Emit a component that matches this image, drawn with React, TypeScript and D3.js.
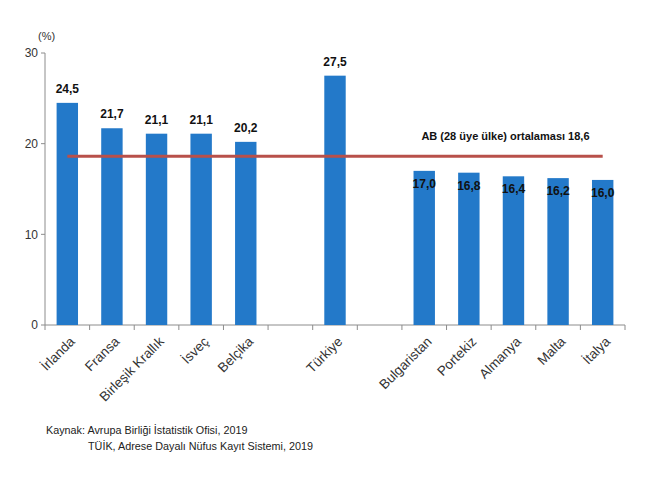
import React, { useEffect, useRef } from 'react'
import * as d3 from 'd3'

// country labels, blanks leave empty slots between groups
const countries = ['İrlanda', 'Fransa', 'Birleşik Krallık', 'İsveç', 'Belçika', '', 'Türkiye', '', 'Bulgaristan', 'Portekiz', 'Almanya', 'Malta', 'İtalya']
const values: (number | null)[] = [24.5, 21.7, 21.1, 21.1, 20.2, null, 27.5, null, 17.0, 16.8, 16.4, 16.2, 16.0]
const yTicks = [0, 10, 20, 30]
const euAverage = 18.6
const avgLabel = 'AB (28 üye ülke) ortalaması 18,6'
const sourceLines = ['Kaynak: Avrupa Birliği İstatistik Ofisi, 2019', 'TÜİK, Adrese Dayalı Nüfus Kayıt Sistemi, 2019']

const FONT = '"Liberation Sans", Arial, sans-serif'

const fmt = (v: number) => v.toFixed(1).replace('.', ',')

function BarChart() {
  const ref = useRef<SVGSVGElement>(null)

  useEffect(() => {
    const svg = d3.select(ref.current)
    svg.selectAll('*').remove()

    const margin = { top: 53, left: 45 }
    const width = 580
    const height = 272

    const x = d3.scaleBand<number>()
      .domain(countries.map((_, i) => i))
      .range([0, width])
      .paddingInner(0.52)
      .paddingOuter(0.26)
    const y = d3.scaleLinear().domain([0, 30]).range([height, 0])

    const g = svg.append('g')
      .attr('transform', 'translate(' + margin.left + ',' + margin.top + ')')

    // y axis
    g.append('line').attr('x1', 0).attr('x2', 0).attr('y1', 0).attr('y2', height)
      .attr('stroke', '#8c8c8c')
    yTicks.forEach(t => {
      g.append('line').attr('x1', -4).attr('x2', 0).attr('y1', y(t)).attr('y2', y(t))
        .attr('stroke', '#8c8c8c')
      g.append('text').attr('x', -7).attr('y', y(t)).attr('dy', '0.35em')
        .attr('text-anchor', 'end').attr('font-size', 12).attr('fill', '#333')
        .attr('font-family', FONT).text(t)
    })
    g.append('text').attr('x', -7).attr('y', -13).attr('font-size', 11).attr('fill', '#333')
      .attr('font-family', FONT).text('(%)')

    // x axis with ticks at slot boundaries
    g.append('line').attr('x1', 0).attr('x2', width).attr('y1', height).attr('y2', height)
      .attr('stroke', '#8c8c8c')
    const step = width / countries.length
    d3.range(countries.length + 1).forEach(i => {
      g.append('line').attr('x1', i * step).attr('x2', i * step)
        .attr('y1', height).attr('y2', height + 5).attr('stroke', '#8c8c8c')
    })
    countries.forEach((c, i) => {
      if (!c) return
      const cx = x(i)! + x.bandwidth() / 2
      g.append('text')
        .attr('transform', 'translate(' + (cx + 5) + ',' + (height + 14) + ') rotate(-45)')
        .attr('text-anchor', 'end').attr('dy', '0.35em')
        .attr('font-size', 13.5).attr('fill', '#333').attr('font-family', FONT)
        .text(c)
    })

    // bars
    const data = values.map((v, i) => ({ i, v })).filter(d => d.v !== null) as { i: number, v: number }[]
    g.selectAll('.bar').data(data).enter().append('rect')
      .attr('class', 'bar')
      .attr('x', d => x(d.i)!)
      .attr('width', x.bandwidth())
      .attr('y', d => y(d.v))
      .attr('height', d => height - y(d.v))
      .attr('fill', '#2379c9')

    // average line
    const first = x(0)! + x.bandwidth() / 2
    const last = x(countries.length - 1)! + x.bandwidth() / 2
    g.append('line').attr('x1', first).attr('x2', last)
      .attr('y1', y(euAverage)).attr('y2', y(euAverage))
      .attr('stroke', '#b8504a').attr('stroke-width', 3)
    g.append('text').attr('x', x(10)! + x.bandwidth() / 2 - 8).attr('y', y(euAverage) - 16)
      .attr('text-anchor', 'middle').attr('font-size', 11).attr('font-weight', 'bold')
      .attr('fill', '#111').attr('font-family', FONT).text(avgLabel)

    // value labels: above the bar when it clears the line, inside otherwise
    g.selectAll('.lbl').data(data).enter().append('text')
      .attr('x', d => x(d.i)! + x.bandwidth() / 2)
      .attr('y', d => d.v > euAverage ? y(d.v) - 10 : y(d.v) + 17)
      .attr('text-anchor', 'middle').attr('font-size', 12).attr('font-weight', 'bold')
      .attr('fill', '#111').attr('font-family', FONT)
      .text(d => fmt(d.v))

    // source note
    svg.append('text').attr('x', 46).attr('y', 434).attr('font-size', 10.8).attr('fill', '#222')
      .attr('font-family', FONT).text(sourceLines[0])
    svg.append('text').attr('x', 88).attr('y', 450).attr('font-size', 10.8).attr('fill', '#222')
      .attr('font-family', FONT).text(sourceLines[1])
  }, [])

  return <svg ref={ref} width={666} height={485} style={{ display: 'block' }} />
}

export default function App() {
  return (
    <div style={{ position: 'absolute', left: 0, top: 0, background: '#fff' }}>
      <BarChart />
    </div>
  )
}
